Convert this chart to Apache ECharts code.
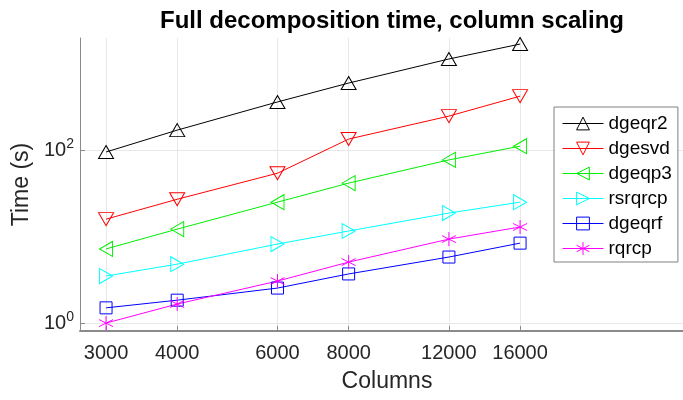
<!DOCTYPE html>
<html>
<head>
<meta charset="utf-8">
<script src="https://cdn.jsdelivr.net/npm/echarts@6/dist/echarts.min.js"></script>
<style>
  html, body { margin: 0; padding: 0; background: #fff; }
  #chart { width: 683px; height: 400px; }
</style>
</head>
<body>
<div id="chart"></div>
<script>
// matrix columns on the x axis
const columns = [3000, 4000, 6000, 8000, 12000, 16000];
const yTicks = [1, 100];

// run times in seconds
const dgeqr2 = [95, 170, 360, 595, 1130, 1680];
const dgesvd = [15.9, 27, 54, 134, 247, 420];
const dgeqp3 = [7.2, 12.2, 25, 41.5, 77, 111];
const rsrqrcp = [3.5, 4.8, 8.2, 11.6, 18.7, 25];
const dgeqrf = [1.5, 1.84, 2.54, 3.7, 5.8, 8.4];
const rqrcp = [1.0, 1.66, 3.06, 5.07, 9.35, 12.9];

const font = "Liberation Sans";
const asterisk = "path://M0,-1L0,1M-0.87,-0.5L0.87,0.5M-0.87,0.5L0.87,-0.5";

// name, data, color, symbol, rotation, size
const seriesDefs = [
  ["dgeqr2", dgeqr2, "#000000", "triangle", 0, [15, 13]],
  ["dgesvd", dgesvd, "#ff0000", "triangle", 180, [15, 13]],
  ["dgeqp3", dgeqp3, "#00ee00", "triangle", 90, [15, 13]],
  ["rsrqrcp", rsrqrcp, "#00ffff", "triangle", -90, [15, 13]],
  ["dgeqrf", dgeqrf, "#0000ff", "rect", 0, 12],
  ["rqrcp", rqrcp, "#ff00ff", asterisk, 0, 14],
];

function pairs(vals) {
  return columns.map((c, i) => [c, vals[i]]);
}

const chart = echarts.init(document.getElementById("chart"));

chart.setOption({
  animation: false,
  title: {
    text: "Full decomposition time, column scaling",
    left: 387,
    textAlign: "center",
    top: 4,
    textStyle: { fontFamily: font, fontWeight: "bold", fontSize: 24, color: "#000" },
  },
  grid: { left: 80, right: 0, top: 38, bottom: 69 },
  legend: {
    orient: "vertical",
    left: 554,
    top: 107,
    itemWidth: 41,
    itemHeight: 16,
    itemGap: 6,
    padding: [7, 6, 4, 8],
    borderColor: "#808080",
    borderWidth: 1,
    backgroundColor: "#fff",
    lineStyle: { width: 1 },
    itemStyle: { borderWidth: 1 },
    textStyle: { fontFamily: font, fontSize: 19, color: "#000" },
    data: seriesDefs.map((d) => d[0]),
  },
  xAxis: {
    type: "log",
    min: 2700,
    max: 30920,
    name: "Columns",
    nameLocation: "middle",
    nameGap: 39,
    nameTextStyle: { fontFamily: font, fontSize: 23, color: "#262626", padding: [0, 0, 0, 11] },
    axisLine: { lineStyle: { color: "#8a8a8a", width: 2 } },
    axisTick: { inside: true, length: 5, customValues: columns, lineStyle: { color: "#8a8a8a" } },
    axisLabel: {
      customValues: columns,
      margin: 12,
      formatter: (v) => String(v),
      fontFamily: font,
      fontSize: 20,
      color: "#262626",
    },
    splitLine: { show: true, lineStyle: { color: "#e8e8e8", width: 1 } },
  },
  yAxis: {
    type: "log",
    min: 0.81,
    max: 1975,
    name: "Time (s)",
    nameLocation: "middle",
    nameGap: 33,
    nameTextStyle: { fontFamily: font, fontSize: 23, color: "#262626" },
    axisLine: { show: true, lineStyle: { color: "#8a8a8a", width: 1 } },
    axisTick: { show: true, inside: true, length: 5, customValues: yTicks, lineStyle: { color: "#8a8a8a" } },
    axisLabel: {
      customValues: yTicks,
      margin: 6,
      formatter: (v) => "{b|10}{s|" + Math.round(Math.log10(v)) + "}",
      rich: {
        b: { fontFamily: font, fontSize: 20, color: "#262626" },
        s: { fontFamily: font, fontSize: 14, color: "#262626", padding: [0, 0, 11, 0] },
      },
    },
    splitLine: { show: true, lineStyle: { color: "#e8e8e8", width: 1 } },
  },
  series: seriesDefs.map(([name, vals, color, symbol, rot, size]) => ({
    name: name,
    type: "line",
    data: pairs(vals),
    symbol: symbol,
    symbolRotate: rot,
    symbolSize: size,
    showAllSymbol: true,
    lineStyle: { color: color, width: 1 },
    itemStyle: { color: "rgba(0,0,0,0)", borderColor: color, borderWidth: 1 },
    emphasis: { disabled: true },
  })),
});
</script>
</body>
</html>
